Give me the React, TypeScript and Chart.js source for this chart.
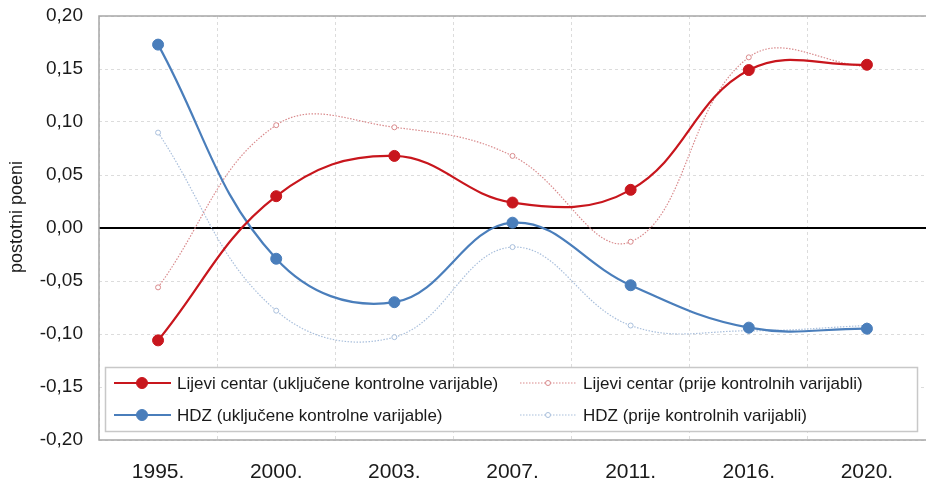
import React, { useEffect, useRef } from "react";
import { Chart, registerables } from "chart.js";

Chart.register(...registerables);

const categories = ["1995.", "2000.", "2003.", "2007.", "2011.", "2016.", "2020."];
const lijeviUkljucene = [-0.106, 0.030, 0.068, 0.024, 0.036, 0.149, 0.154];
const lijeviPrije = [-0.056, 0.097, 0.095, 0.068, -0.013, 0.161, 0.152];
const hdzUkljucene = [0.173, -0.029, -0.070, 0.005, -0.054, -0.094, -0.095];
const hdzPrije = [0.090, -0.078, -0.103, -0.018, -0.092, -0.097, -0.092];
const yTicks = [-0.2, -0.15, -0.1, -0.05, 0, 0.05, 0.1, 0.15, 0.2];
const yTitle = "postotni poeni";

const RED = "#c8161d";
const RED_LIGHT = "#d98a8c";
const BLUE = "#4a7ebb";
const BLUE_LIGHT = "#a9bfdc";
const FONT = "'Liberation Sans', Arial, sans-serif";

const fmt = (v: number) => v.toFixed(2).replace(".", ",");

const frameAndLegend = {
  id: "frameAndLegend",
  afterDatasetsDraw(chart: any) {
    const { ctx, chartArea } = chart;
    const { left, top, right, bottom } = chartArea;
    ctx.save();
    // frame (top, left, bottom)
    ctx.strokeStyle = "#a6a6a6";
    ctx.lineWidth = 1.5;
    ctx.beginPath();
    ctx.moveTo(right, top);
    ctx.lineTo(left, top);
    ctx.lineTo(left, bottom);
    ctx.lineTo(right, bottom);
    ctx.stroke();
    // y title
    ctx.save();
    ctx.translate(17, 217);
    ctx.rotate(-Math.PI / 2);
    ctx.font = `18px ${FONT}`;
    ctx.fillStyle = "#1a1a1a";
    ctx.textAlign = "center";
    ctx.textBaseline = "middle";
    ctx.fillText(yTitle, 0, 0);
    ctx.restore();
    // legend box
    const bx = 105, by = 367, bw = 812, bh = 64;
    ctx.fillStyle = "#ffffff";
    ctx.fillRect(bx, by, bw, bh);
    ctx.strokeStyle = "#c8c8c8";
    ctx.lineWidth = 1.5;
    ctx.strokeRect(bx + 0.5, by + 0.5, bw, bh);
    const ds = chart.data.datasets;
    const items = [
      { d: ds[0], x: 114, y: 383 },
      { d: ds[1], x: 520, y: 383 },
      { d: ds[2], x: 114, y: 415 },
      { d: ds[3], x: 520, y: 415 },
    ];
    ctx.font = `17px ${FONT}`;
    ctx.textBaseline = "middle";
    ctx.textAlign = "left";
    for (const it of items) {
      const d = it.d;
      ctx.strokeStyle = d.borderColor;
      ctx.lineWidth = d.borderWidth;
      ctx.setLineDash(d.borderDash || []);
      ctx.beginPath();
      ctx.moveTo(it.x, it.y);
      ctx.lineTo(it.x + 57, it.y);
      ctx.stroke();
      ctx.setLineDash([]);
      ctx.beginPath();
      ctx.arc(it.x + 28, it.y, d.pointRadius, 0, Math.PI * 2);
      ctx.fillStyle = d.pointBackgroundColor;
      ctx.fill();
      ctx.lineWidth = d.pointBorderWidth;
      ctx.strokeStyle = d.pointBorderColor;
      ctx.stroke();
      ctx.fillStyle = "#1a1a1a";
      ctx.fillText(d.label, it.x + 63, it.y + 1);
    }
    ctx.restore();
  },
};

const zeroPad = (s: any) => {
  s.paddingTop = 0;
  s.paddingBottom = 0;
  s.paddingLeft = 0;
  s.paddingRight = 0;
};

export default function App() {
  const ref = useRef<HTMLCanvasElement | null>(null);
  useEffect(() => {
    document.body.style.margin = "0";
    const canvas = ref.current!;
    const chart = new Chart(canvas, {
      type: "line",
      data: {
        labels: categories,
        datasets: [
          {
            label: "Lijevi centar (uključene kontrolne varijable)",
            data: lijeviUkljucene,
            borderColor: RED,
            backgroundColor: RED,
            borderWidth: 2.2,
            pointRadius: 5.5,
            pointBackgroundColor: RED,
            pointBorderColor: RED,
            pointBorderWidth: 1,
            tension: 0.4,
            order: 1,
          },
          {
            label: "Lijevi centar (prije kontrolnih varijabli)",
            data: lijeviPrije,
            borderColor: RED_LIGHT,
            backgroundColor: RED_LIGHT,
            borderWidth: 1.2,
            borderDash: [1.5, 1.5],
            pointRadius: 2.5,
            pointBackgroundColor: "#ffffff",
            pointBorderColor: RED_LIGHT,
            pointBorderWidth: 1,
            tension: 0.4,
            order: 3,
          },
          {
            label: "HDZ (uključene kontrolne varijable)",
            data: hdzUkljucene,
            borderColor: BLUE,
            backgroundColor: BLUE,
            borderWidth: 2.2,
            pointRadius: 5.5,
            pointBackgroundColor: BLUE,
            pointBorderColor: BLUE,
            pointBorderWidth: 1,
            tension: 0.4,
            order: 2,
          },
          {
            label: "HDZ (prije kontrolnih varijabli)",
            data: hdzPrije,
            borderColor: BLUE_LIGHT,
            backgroundColor: BLUE_LIGHT,
            borderWidth: 1.2,
            borderDash: [1.5, 1.5],
            pointRadius: 2.5,
            pointBackgroundColor: "#ffffff",
            pointBorderColor: BLUE_LIGHT,
            pointBorderWidth: 1,
            tension: 0.4,
            order: 4,
          },
        ],
      },
      options: {
        animation: false,
        responsive: false,
        layout: { autoPadding: false, padding: { top: 16, right: 0, left: 0, bottom: 0 } },
        plugins: { legend: { display: false }, tooltip: { enabled: false } },
        scales: {
          x: {
            type: "category",
            offset: true,
            grid: {
              offset: true,
              color: "#dcdcdc",
              lineWidth: 1,
              drawTicks: false,
            },
            border: { display: false, dash: [3, 3] },
            ticks: {
              padding: 20,
              color: "#1a1a1a",
              font: { family: FONT, size: 21 },
              maxRotation: 0,
            },
            afterFit: (s: any) => {
              s.height = 41;
              zeroPad(s);
            },
          },
          y: {
            min: -0.2,
            max: 0.2,
            afterBuildTicks: (s: any) => {
              s.ticks = yTicks.map((v) => ({ value: v }));
            },
            grid: {
              color: (c: any) => (c.tick && c.tick.value === 0 ? "#000000" : "#dcdcdc"),
              lineWidth: (c: any) => (c.tick && c.tick.value === 0 ? 2 : 1),
              drawTicks: false,
            },
            border: {
              display: false,
              dash: (c: any) => (c.tick && Math.abs(c.tick.value) < 1e-9 ? [] : [3, 3]),
            },
            ticks: {
              padding: 16,
              color: "#1a1a1a",
              font: { family: FONT, size: 19 },
              callback: (v: any) => fmt(Number(v)),
            },
            afterFit: (s: any) => {
              s.width = 99;
              zeroPad(s);
            },
          },
        },
      },
      plugins: [frameAndLegend],
    } as any);
    return () => chart.destroy();
  }, []);
  return <canvas ref={ref} width={926} height={481} style={{ display: "block" }} />;
}
